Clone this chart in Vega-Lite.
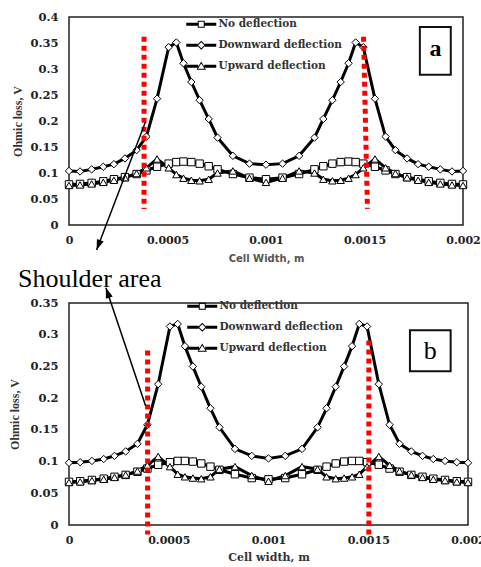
{
  "$schema": "https://vega.github.io/schema/vega-lite/v6.json",
  "padding": {"left": 8, "top": 10, "right": 0, "bottom": 0},
  "bounds": "flush",
  "spacing": 78,
  "background": "white",
  "config": {
    "view": {"stroke": "#222", "strokeWidth": 1.5},
    "axis": {"grid": false, "ticks": false, "domain": false, "labelFont": "DejaVu Serif", "labelFontWeight": "bold", "labelFontSize": 11.5, "labelColor": "#222", "labelFlush": false, "labelOverlap": false, "titleColor": "#333"}
  },
  "resolve": {"scale": {"x": "independent", "y": "independent", "shape": "independent"}, "legend": {"shape": "independent"}},
  "datasets": {
    "a": [
      {"x": 0, "No deflection": 0.078, "Downward deflection": 0.104, "Upward deflection": 0.076},
      {"x": 0.000056, "No deflection": 0.079, "Downward deflection": 0.103, "Upward deflection": 0.077},
      {"x": 0.000115, "No deflection": 0.081, "Downward deflection": 0.107, "Upward deflection": 0.079},
      {"x": 0.000174, "No deflection": 0.084, "Downward deflection": 0.112, "Upward deflection": 0.082},
      {"x": 0.000228, "No deflection": 0.088, "Downward deflection": 0.117, "Upward deflection": 0.086},
      {"x": 0.000284, "No deflection": 0.092, "Downward deflection": 0.128, "Upward deflection": 0.091},
      {"x": 0.000343, "No deflection": 0.098, "Downward deflection": 0.144, "Upward deflection": 0.099},
      {"x": 0.000393, "No deflection": 0.105, "Downward deflection": 0.170, "Upward deflection": 0.110},
      {"x": 0.000447, "No deflection": 0.112, "Downward deflection": 0.243, "Upward deflection": 0.127},
      {"x": 0.000506, "No deflection": 0.118, "Downward deflection": 0.342, "Upward deflection": 0.110},
      {"x": 0.000545, "No deflection": 0.121, "Downward deflection": 0.351, "Upward deflection": 0.097},
      {"x": 0.000581, "No deflection": 0.122, "Downward deflection": 0.311, "Upward deflection": 0.090},
      {"x": 0.000621, "No deflection": 0.121, "Downward deflection": 0.275, "Upward deflection": 0.086},
      {"x": 0.000663, "No deflection": 0.118, "Downward deflection": 0.240, "Upward deflection": 0.085},
      {"x": 0.000709, "No deflection": 0.113, "Downward deflection": 0.204, "Upward deflection": 0.088},
      {"x": 0.000754, "No deflection": 0.107, "Downward deflection": 0.168, "Upward deflection": 0.100},
      {"x": 0.000832, "No deflection": 0.098, "Downward deflection": 0.133, "Upward deflection": 0.104},
      {"x": 0.000916, "No deflection": 0.091, "Downward deflection": 0.118, "Upward deflection": 0.090},
      {"x": 0.001, "No deflection": 0.088, "Downward deflection": 0.116, "Upward deflection": 0.082},
      {"x": 0.001084, "No deflection": 0.091, "Downward deflection": 0.118, "Upward deflection": 0.090},
      {"x": 0.001168, "No deflection": 0.098, "Downward deflection": 0.133, "Upward deflection": 0.104},
      {"x": 0.001246, "No deflection": 0.107, "Downward deflection": 0.168, "Upward deflection": 0.100},
      {"x": 0.001291, "No deflection": 0.113, "Downward deflection": 0.204, "Upward deflection": 0.088},
      {"x": 0.001337, "No deflection": 0.118, "Downward deflection": 0.240, "Upward deflection": 0.085},
      {"x": 0.001379, "No deflection": 0.121, "Downward deflection": 0.275, "Upward deflection": 0.086},
      {"x": 0.001419, "No deflection": 0.122, "Downward deflection": 0.311, "Upward deflection": 0.090},
      {"x": 0.001455, "No deflection": 0.121, "Downward deflection": 0.351, "Upward deflection": 0.097},
      {"x": 0.001494, "No deflection": 0.118, "Downward deflection": 0.342, "Upward deflection": 0.110},
      {"x": 0.001553, "No deflection": 0.112, "Downward deflection": 0.243, "Upward deflection": 0.127},
      {"x": 0.001607, "No deflection": 0.105, "Downward deflection": 0.170, "Upward deflection": 0.110},
      {"x": 0.001657, "No deflection": 0.098, "Downward deflection": 0.144, "Upward deflection": 0.099},
      {"x": 0.001716, "No deflection": 0.092, "Downward deflection": 0.128, "Upward deflection": 0.091},
      {"x": 0.001772, "No deflection": 0.088, "Downward deflection": 0.117, "Upward deflection": 0.086},
      {"x": 0.001826, "No deflection": 0.084, "Downward deflection": 0.112, "Upward deflection": 0.082},
      {"x": 0.001885, "No deflection": 0.081, "Downward deflection": 0.107, "Upward deflection": 0.079},
      {"x": 0.001944, "No deflection": 0.079, "Downward deflection": 0.103, "Upward deflection": 0.077},
      {"x": 0.002, "No deflection": 0.078, "Downward deflection": 0.104, "Upward deflection": 0.076}
    ],
    "b": [
      {"x": 0, "No deflection": 0.068, "Downward deflection": 0.098, "Upward deflection": 0.067},
      {"x": 0.000056, "No deflection": 0.069, "Downward deflection": 0.099, "Upward deflection": 0.068},
      {"x": 0.000115, "No deflection": 0.071, "Downward deflection": 0.101, "Upward deflection": 0.070},
      {"x": 0.000174, "No deflection": 0.073, "Downward deflection": 0.104, "Upward deflection": 0.072},
      {"x": 0.000228, "No deflection": 0.076, "Downward deflection": 0.109, "Upward deflection": 0.075},
      {"x": 0.000284, "No deflection": 0.079, "Downward deflection": 0.116, "Upward deflection": 0.079},
      {"x": 0.000343, "No deflection": 0.084, "Downward deflection": 0.128, "Upward deflection": 0.085},
      {"x": 0.000393, "No deflection": 0.089, "Downward deflection": 0.158, "Upward deflection": 0.094},
      {"x": 0.000447, "No deflection": 0.095, "Downward deflection": 0.222, "Upward deflection": 0.108},
      {"x": 0.000506, "No deflection": 0.099, "Downward deflection": 0.313, "Upward deflection": 0.092},
      {"x": 0.000545, "No deflection": 0.101, "Downward deflection": 0.317, "Upward deflection": 0.080},
      {"x": 0.000581, "No deflection": 0.101, "Downward deflection": 0.282, "Upward deflection": 0.076},
      {"x": 0.000621, "No deflection": 0.100, "Downward deflection": 0.250, "Upward deflection": 0.074},
      {"x": 0.000663, "No deflection": 0.097, "Downward deflection": 0.218, "Upward deflection": 0.073},
      {"x": 0.000709, "No deflection": 0.092, "Downward deflection": 0.184, "Upward deflection": 0.076},
      {"x": 0.000754, "No deflection": 0.087, "Downward deflection": 0.154, "Upward deflection": 0.088},
      {"x": 0.000832, "No deflection": 0.080, "Downward deflection": 0.120, "Upward deflection": 0.092},
      {"x": 0.000916, "No deflection": 0.074, "Downward deflection": 0.109, "Upward deflection": 0.078},
      {"x": 0.001, "No deflection": 0.072, "Downward deflection": 0.105, "Upward deflection": 0.069},
      {"x": 0.001084, "No deflection": 0.074, "Downward deflection": 0.109, "Upward deflection": 0.078},
      {"x": 0.001168, "No deflection": 0.080, "Downward deflection": 0.120, "Upward deflection": 0.092},
      {"x": 0.001246, "No deflection": 0.087, "Downward deflection": 0.154, "Upward deflection": 0.088},
      {"x": 0.001291, "No deflection": 0.092, "Downward deflection": 0.184, "Upward deflection": 0.076},
      {"x": 0.001337, "No deflection": 0.097, "Downward deflection": 0.218, "Upward deflection": 0.073},
      {"x": 0.001379, "No deflection": 0.100, "Downward deflection": 0.250, "Upward deflection": 0.074},
      {"x": 0.001419, "No deflection": 0.101, "Downward deflection": 0.282, "Upward deflection": 0.076},
      {"x": 0.001455, "No deflection": 0.101, "Downward deflection": 0.317, "Upward deflection": 0.080},
      {"x": 0.001494, "No deflection": 0.099, "Downward deflection": 0.313, "Upward deflection": 0.092},
      {"x": 0.001553, "No deflection": 0.095, "Downward deflection": 0.222, "Upward deflection": 0.108},
      {"x": 0.001607, "No deflection": 0.089, "Downward deflection": 0.158, "Upward deflection": 0.094},
      {"x": 0.001657, "No deflection": 0.084, "Downward deflection": 0.128, "Upward deflection": 0.085},
      {"x": 0.001716, "No deflection": 0.079, "Downward deflection": 0.116, "Upward deflection": 0.079},
      {"x": 0.001772, "No deflection": 0.076, "Downward deflection": 0.109, "Upward deflection": 0.075},
      {"x": 0.001826, "No deflection": 0.073, "Downward deflection": 0.104, "Upward deflection": 0.072},
      {"x": 0.001885, "No deflection": 0.071, "Downward deflection": 0.101, "Upward deflection": 0.070},
      {"x": 0.001944, "No deflection": 0.069, "Downward deflection": 0.099, "Upward deflection": 0.068},
      {"x": 0.002, "No deflection": 0.068, "Downward deflection": 0.098, "Upward deflection": 0.067}
    ]
  },
  "vconcat": [
    {
      "width": 394,
      "height": 208,
      "resolve": {"scale": {"shape": "independent"}, "axis": {"x": "independent", "y": "independent"}},
      "layer": [
        {
          "data": {"name": "a"},
          "transform": [{"fold": ["No deflection", "Downward deflection", "Upward deflection"], "as": ["series", "y"]}],
          "mark": {"type": "line", "color": "black", "strokeWidth": 3},
          "encoding": {
            "x": {"field": "x", "type": "quantitative", "scale": {"domain": [0, 0.002], "nice": false},
              "axis": {"title": "Cell Width, m", "values": [0, 0.0005, 0.001, 0.0015, 0.002], "format": "~g", "labelOverlap": false, "labelFontSize": 11, "labelPadding": 9, "titleFont": "DejaVu Sans", "titleFontSize": 10, "titleFontWeight": "bold", "titleColor": "#555", "titlePadding": 8}},
            "y": {"field": "y", "type": "quantitative", "scale": {"domain": [0, 0.4], "nice": false},
              "axis": {"title": "Ohmic loss, V", "values": [0, 0.05, 0.1, 0.15, 0.2, 0.25, 0.3, 0.35, 0.4], "format": "~g", "labelOverlap": false, "labelPadding": 11, "titleFont": "Liberation Serif", "titleFontSize": 12, "titleFontWeight": "bold", "titlePadding": 5}},
            "detail": {"field": "series"}
          }
        },
        {
          "data": {"name": "a"},
          "transform": [{"fold": ["No deflection", "Downward deflection", "Upward deflection"], "as": ["series", "y"]}],
          "mark": {"type": "point", "filled": true, "fill": "white", "stroke": "black", "strokeWidth": 1, "size": 55, "opacity": 1},
          "encoding": {
            "x": {"field": "x", "type": "quantitative", "axis": null},
            "y": {"field": "y", "type": "quantitative", "axis": null},
            "shape": {"field": "series", "type": "nominal", "legend": null,
              "scale": {"domain": ["No deflection", "Downward deflection", "Upward deflection"], "range": ["square", "diamond", "triangle-up"]}}
          }
        },
        {
          "data": {"name": "a"},
          "transform": [{"fold": ["No deflection", "Downward deflection", "Upward deflection"], "as": ["series", "y"]}],
          "mark": {"type": "point", "filled": true, "color": "black", "opacity": 0},
          "encoding": {
            "x": {"field": "x", "type": "quantitative", "axis": null},
            "y": {"field": "y", "type": "quantitative", "axis": null},
            "shape": {"field": "series", "type": "nominal",
              "scale": {"domain": ["No deflection", "Downward deflection", "Upward deflection"], "range": [
                "M-3,-0.3H-0.7V0.3H-3Z M0.7,-0.3H3V0.3H0.7Z M-0.7,-0.7H0.7V0.7H-0.7Z M-0.5,-0.5V0.5H0.5V-0.5Z",
                "M-3,-0.3H-0.75V0.3H-3Z M0.75,-0.3H3V0.3H0.75Z M0,-0.9L0.9,0L0,0.9L-0.9,0Z M0,-0.62L-0.62,0L0,0.62L0.62,0Z",
                "M-3,-0.3H-0.6V0.3H-3Z M0.6,-0.3H3V0.3H0.6Z M0,-0.95L0.95,0.7L-0.95,0.7Z M0,-0.55L-0.66,0.5L0.66,0.5Z"]},
              "legend": {"orient": "none", "legendX": 127, "legendY": 2, "title": null, "padding": 0, "offset": 0, "symbolSize": 100, "symbolOpacity": 1, "symbolFillColor": "black", "symbolStrokeColor": "transparent", "symbolStrokeWidth": 0, "rowPadding": 10, "labelOffset": 12, "labelFont": "DejaVu Serif", "labelFontWeight": "bold", "labelFontSize": 10.5, "labelColor": "#333"}
            }
          }
        },
        {
          "data": {"values": [{}]},
          "mark": {"type": "rule", "color": "red", "strokeWidth": 5, "strokeDash": [5, 4], "clip": false},
          "encoding": {"x": {"datum": 0.000381, "type": "quantitative", "axis": null}, "y": {"datum": 0.362, "type": "quantitative", "axis": null}, "y2": {"datum": 0.031}}
        },
        {
          "data": {"values": [{}]},
          "mark": {"type": "rule", "color": "red", "strokeWidth": 5, "strokeDash": [5, 4], "clip": false},
          "encoding": {"x": {"datum": 0.001495, "type": "quantitative", "axis": null}, "x2": {"datum": 0.001515}, "y": {"datum": 0.362, "type": "quantitative", "axis": null}, "y2": {"datum": 0.031}}
        },
        {
          "data": {"values": [{}]},
          "mark": {"type": "rule", "color": "black", "strokeWidth": 1.5, "clip": false},
          "encoding": {"x": {"datum": 0.000388, "type": "quantitative", "axis": null}, "x2": {"datum": 0.00014}, "y": {"datum": 0.198, "type": "quantitative", "axis": null}, "y2": {"datum": -0.048}}
        },
        {
          "data": {"values": [{}]},
          "mark": {"type": "point", "shape": "M0,0L0.9,2.6L-0.9,2.6Z", "filled": true, "color": "black", "opacity": 1, "size": 64, "angle": 201, "clip": false},
          "encoding": {"x": {"datum": 0.00014, "type": "quantitative", "axis": null}, "y": {"datum": -0.048, "type": "quantitative", "axis": null}}
        },
        {
          "data": {"values": [{}]},
          "mark": {"type": "rect", "fill": "white", "stroke": "#111", "strokeWidth": 2},
          "encoding": {"x": {"datum": 0.001781, "type": "quantitative", "axis": null}, "x2": {"datum": 0.001938}, "y": {"datum": 0.381, "type": "quantitative", "axis": null}, "y2": {"datum": 0.289}}
        },
        {
          "data": {"values": [{}]},
          "mark": {"type": "text", "text": "a", "font": "Liberation Serif", "fontWeight": "bold", "fontSize": 24, "align": "center", "baseline": "middle", "color": "black"},
          "encoding": {"x": {"datum": 0.00186, "type": "quantitative", "axis": null}, "y": {"datum": 0.338, "type": "quantitative", "axis": null}}
        }
      ]
    },
    {
      "width": 399,
      "height": 222,
      "resolve": {"scale": {"shape": "independent"}, "axis": {"x": "independent", "y": "independent"}},
      "layer": [
        {
          "data": {"name": "b"},
          "transform": [{"fold": ["No deflection", "Downward deflection", "Upward deflection"], "as": ["series", "y"]}],
          "mark": {"type": "line", "color": "black", "strokeWidth": 3},
          "encoding": {
            "x": {"field": "x", "type": "quantitative", "scale": {"domain": [0, 0.002], "nice": false},
              "axis": {"title": "Cell width, m", "values": [0, 0.0005, 0.001, 0.0015, 0.002], "format": "~g", "labelOverlap": false, "labelFontSize": 11, "labelPadding": 9, "titleFont": "DejaVu Serif", "titleFontSize": 11, "titleFontWeight": "bold", "titleColor": "#333", "titlePadding": 6}},
            "y": {"field": "y", "type": "quantitative", "scale": {"domain": [0, 0.35], "nice": false},
              "axis": {"title": "Ohmic loss, V", "values": [0, 0.05, 0.1, 0.15, 0.2, 0.25, 0.3, 0.35], "format": "~g", "labelOverlap": false, "labelPadding": 11, "titleFont": "Liberation Serif", "titleFontSize": 12, "titleFontWeight": "bold", "titlePadding": 8}},
            "detail": {"field": "series"}
          }
        },
        {
          "data": {"name": "b"},
          "transform": [{"fold": ["No deflection", "Downward deflection", "Upward deflection"], "as": ["series", "y"]}],
          "mark": {"type": "point", "filled": true, "fill": "white", "stroke": "black", "strokeWidth": 1, "size": 55, "opacity": 1},
          "encoding": {
            "x": {"field": "x", "type": "quantitative", "axis": null},
            "y": {"field": "y", "type": "quantitative", "axis": null},
            "shape": {"field": "series", "type": "nominal", "legend": null,
              "scale": {"domain": ["No deflection", "Downward deflection", "Upward deflection"], "range": ["square", "diamond", "triangle-up"]}}
          }
        },
        {
          "data": {"name": "b"},
          "transform": [{"fold": ["No deflection", "Downward deflection", "Upward deflection"], "as": ["series", "y"]}],
          "mark": {"type": "point", "filled": true, "color": "black", "opacity": 0},
          "encoding": {
            "x": {"field": "x", "type": "quantitative", "axis": null},
            "y": {"field": "y", "type": "quantitative", "axis": null},
            "shape": {"field": "series", "type": "nominal",
              "scale": {"domain": ["No deflection", "Downward deflection", "Upward deflection"], "range": [
                "M-3,-0.3H-0.7V0.3H-3Z M0.7,-0.3H3V0.3H0.7Z M-0.7,-0.7H0.7V0.7H-0.7Z M-0.5,-0.5V0.5H0.5V-0.5Z",
                "M-3,-0.3H-0.75V0.3H-3Z M0.75,-0.3H3V0.3H0.75Z M0,-0.9L0.9,0L0,0.9L-0.9,0Z M0,-0.62L-0.62,0L0,0.62L0.62,0Z",
                "M-3,-0.3H-0.6V0.3H-3Z M0.6,-0.3H3V0.3H0.6Z M0,-0.95L0.95,0.7L-0.95,0.7Z M0,-0.55L-0.66,0.5L0.66,0.5Z"]},
              "legend": {"orient": "none", "legendX": 128, "legendY": -2, "title": null, "padding": 0, "offset": 0, "symbolSize": 100, "symbolOpacity": 1, "symbolFillColor": "black", "symbolStrokeColor": "transparent", "symbolStrokeWidth": 0, "rowPadding": 10, "labelOffset": 12, "labelFont": "DejaVu Serif", "labelFontWeight": "bold", "labelFontSize": 10.5, "labelColor": "#333"}
            }
          }
        },
        {
          "data": {"values": [{}]},
          "mark": {"type": "rule", "color": "red", "strokeWidth": 5, "strokeDash": [5, 4], "clip": false},
          "encoding": {"x": {"datum": 0.000394, "type": "quantitative", "axis": null}, "y": {"datum": 0.275, "type": "quantitative", "axis": null}, "y2": {"datum": -0.015}}
        },
        {
          "data": {"values": [{}]},
          "mark": {"type": "rule", "color": "red", "strokeWidth": 5, "strokeDash": [5, 4], "clip": false},
          "encoding": {"x": {"datum": 0.001503, "type": "quantitative", "axis": null}, "y": {"datum": 0.291, "type": "quantitative", "axis": null}, "y2": {"datum": -0.017}}
        },
        {
          "data": {"values": [{}]},
          "mark": {"type": "rule", "color": "black", "strokeWidth": 1.5, "clip": false},
          "encoding": {"x": {"datum": 0.000384, "type": "quantitative", "axis": null}, "x2": {"datum": 0.000185}, "y": {"datum": 0.188, "type": "quantitative", "axis": null}, "y2": {"datum": 0.374}}
        },
        {
          "data": {"values": [{}]},
          "mark": {"type": "point", "shape": "M0,0L0.9,2.6L-0.9,2.6Z", "filled": true, "color": "black", "opacity": 1, "size": 64, "angle": 341, "clip": false},
          "encoding": {"x": {"datum": 0.000185, "type": "quantitative", "axis": null}, "y": {"datum": 0.374, "type": "quantitative", "axis": null}}
        },
        {
          "data": {"values": [{}]},
          "mark": {"type": "text", "text": "Shoulder area", "font": "Liberation Serif", "fontSize": 26, "align": "left", "baseline": "middle", "color": "black", "clip": false},
          "encoding": {"x": {"datum": -0.000256, "type": "quantitative", "axis": null}, "y": {"datum": 0.388, "type": "quantitative", "axis": null}}
        },
        {
          "data": {"values": [{}]},
          "mark": {"type": "rect", "fill": "white", "stroke": "#111", "strokeWidth": 2},
          "encoding": {"x": {"datum": 0.001709, "type": "quantitative", "axis": null}, "x2": {"datum": 0.001913}, "y": {"datum": 0.307, "type": "quantitative", "axis": null}, "y2": {"datum": 0.2424}}
        },
        {
          "data": {"values": [{}]},
          "mark": {"type": "text", "text": "b", "font": "Liberation Serif", "fontSize": 26, "align": "center", "baseline": "middle", "color": "black"},
          "encoding": {"x": {"datum": 0.001811, "type": "quantitative", "axis": null}, "y": {"datum": 0.2747, "type": "quantitative", "axis": null}}
        }
      ]
    }
  ]
}
